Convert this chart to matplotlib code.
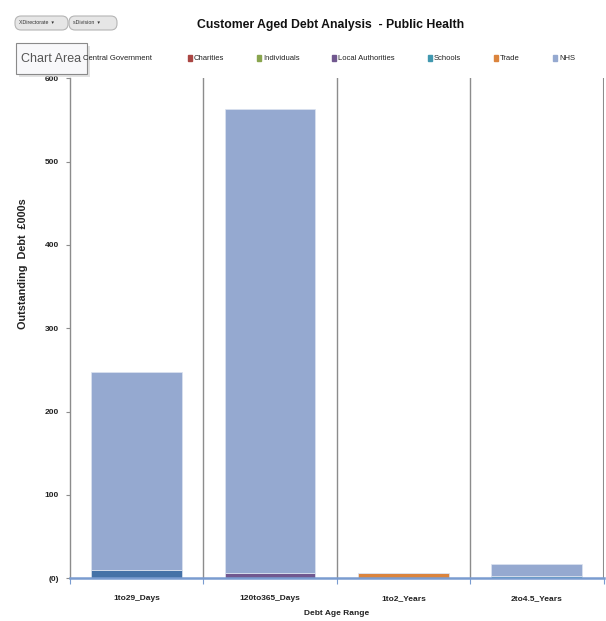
import matplotlib
matplotlib.use("Agg")
import matplotlib.pyplot as plt
from matplotlib.patches import FancyBboxPatch, Rectangle
import numpy as np

# Debt age bands and outstanding debt (£000s) per customer type
categories = ["1to29_Days", "120to365_Days", "1to2_Years", "2to4.5_Years"]
series_names = ["Central Government", "Charities", "Individuals",
                "Local Authorities", "Schools", "Trade", "NHS"]
central_government = [10, 0, 0, 0]
charities = [0, 0, 0, 0]
individuals = [0, 0, 0, 0]
local_authorities = [0, 6, 0, 0]
schools = [0, 0, 0, 3]
trade = [0, 0, 6, 0]
nhs = [238, 557, 0, 14]
y_ticks = [0, 100, 200, 300, 400, 500, 600]
y_tick_labels = ["(0)", "100", "200", "300", "400", "500", "600"]

series_values = [central_government, charities, individuals,
                 local_authorities, schools, trade, nhs]
colors = ["#4572A7", "#AA4643", "#89A54E", "#71588F", "#4198AF",
          "#DB843D", "#95A9D0"]

NARROW = ["Liberation Sans", "DejaVu Sans"]

W, H = 606, 621
fig = plt.figure(figsize=(W / 100, H / 100), dpi=100)
ax = fig.add_axes([70 / W, 1 - 578.3 / H, 533.5 / W, 500 / H])

x = np.arange(len(categories))
bottom = np.zeros(len(categories))
for name, vals, col in zip(series_names, series_values, colors):
    vals = np.array(vals, dtype=float)
    ax.bar(x, vals, width=0.68, bottom=bottom, color=col,
           edgecolor="#dde4f0", linewidth=0.5, label=name, zorder=2)
    bottom += vals

ax.set_xlim(-0.5, len(categories) - 0.5)
ax.set_ylim(0, 600)

# category separators
for b in np.arange(0.5, len(categories) - 0.4, 1.0):
    ax.axvline(b, color="#8c8c8c", lw=1.0, zorder=1)
ax.axvline(len(categories) - 0.5, color="#8c8c8c", lw=1.5, zorder=1)

for s in ["top", "right", "bottom"]:
    ax.spines[s].set_visible(False)
ax.spines["left"].set_color("#8c8c8c")
ax.spines["left"].set_linewidth(1.0)
ax.axhline(0, color="#7A9CD0", lw=1.8, zorder=3, clip_on=False)

ax.set_yticks(y_ticks)
ax.set_yticklabels(y_tick_labels, fontsize=6, fontweight="bold",
                   color="#222222", family=NARROW)
ax.tick_params(axis="y", length=3, width=0.8, color="#8c8c8c", pad=5)
ax.set_xticks(x)
ax.set_xticklabels(categories, fontsize=6, fontweight="bold",
                   color="#222222", family=NARROW)
ax.tick_params(axis="x", length=0, pad=12)
ax.set_xticks(np.arange(-0.5, len(categories)), minor=True)
ax.tick_params(axis="x", which="minor", length=4, width=0.8, color="#7A9CD0")

ax.set_xlabel("Debt Age Range", fontsize=6, fontweight="bold",
              color="#222222", family=NARROW)
ax.xaxis.set_label_coords(0.5, -0.064)
ax.set_ylabel("Outstanding  Debt  £000s", fontsize=7.8, fontweight="bold",
              color="#222222", family=NARROW)
ax.yaxis.set_label_coords(-0.078, 0.63)

fig.text(331 / W, 1 - 25 / H, "Customer Aged Debt Analysis  - Public Health",
         ha="center", va="center", fontsize=8.8, fontweight="bold",
         family=NARROW, color="#111111")

# legend row
legend_x = [77, 188, 257, 332, 428, 494, 553]
for name, col, lx in zip(series_names, colors, legend_x):
    fig.patches.append(Rectangle((lx / W, 1 - 61 / H), 4 / W, 6 / H,
                                 transform=fig.transFigure, color=col))
    fig.text((lx + 6) / W, 1 - 58 / H, name, fontsize=5.5, va="center",
             ha="left", color="#222222", family=NARROW)

# pivot field buttons
for bx, bw, label in [(15, 53, "XDirectorate  ▾"), (69, 48, "sDivision  ▾")]:
    fig.patches.append(FancyBboxPatch((bx / W, 1 - 30 / H), bw / W, 14 / H,
                                      boxstyle="round,pad=0,rounding_size=0.01",
                                      transform=fig.transFigure,
                                      facecolor="#e6e6e6", edgecolor="#b5b5b5",
                                      lw=0.8))
    fig.text((bx + 4) / W, 1 - 23 / H, label, fontsize=3.8, va="center",
             ha="left", color="#333333", family=NARROW)

# hover tooltip
fig.patches.append(Rectangle((19 / W, 1 - 77 / H), 71 / W, 31 / H,
                             transform=fig.transFigure, facecolor="#cfcfcf",
                             edgecolor="none", alpha=0.6))
fig.patches.append(Rectangle((16 / W, 1 - 74 / H), 71 / W, 31 / H,
                             transform=fig.transFigure, facecolor="#f8f8fa",
                             edgecolor="#8a8a8a", lw=0.8))
fig.text(51 / W, 1 - 58.5 / H, "Chart Area", fontsize=9, va="center",
         ha="center", color="#555555", family=NARROW)

fig.savefig("out.png", dpi=100)
